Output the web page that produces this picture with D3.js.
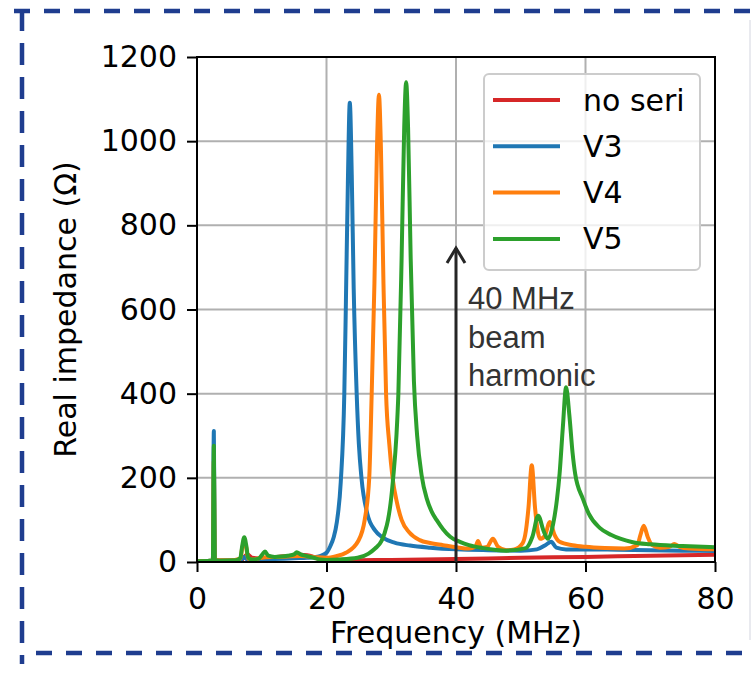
<!DOCTYPE html>
<html>
<head>
<meta charset="utf-8">
<script src="https://cdn.jsdelivr.net/npm/d3@7/dist/d3.min.js"></script>
<style>
  html, body { margin: 0; padding: 0; background: #ffffff; }
  svg { display: block; }
</style>
</head>
<body>
<svg id="chart" width="754" height="682"></svg>
<script>
// Series names and colours (matplotlib tab10)
const seriesNames = ["no seri", "V3", "V4", "V5"];
const seriesColors = ["#d62728", "#1f77b4", "#ff7f0e", "#2ca02c"];

// Real impedance (Ω) against frequency (MHz) for each configuration
const noSeriFreq = [0, 2, 5, 6.8, 7.3, 7.8, 8.5, 10, 11, 12, 13, 14, 15, 16, 17, 18, 19, 20, 25, 30, 40, 50, 60, 70, 80];
const noSeriZ    = [1, 1, 2, 3, 12, 18, 10, 8, 10, 12, 13, 14, 15, 17, 16, 12, 6, 3, 4, 5, 7, 10, 12, 15, 17];

const v3Freq = [0, 2.0, 2.45, 2.6, 2.75, 3.2, 5, 6.8, 7.3, 7.8, 10, 12, 15, 17, 18, 19, 20, 20.6, 21.1, 21.6, 22.2, 22.75, 23.0, 23.3, 23.6, 23.9, 24.2, 24.66, 25.0, 25.4, 26.3, 27.5, 28.7, 30.5, 32.9, 36, 40.1, 45, 50, 52.5, 53.8, 54.7, 55.5, 57, 60, 65, 70, 75, 80];
const v3Z    = [2, 3, 5, 311, 5, 4, 4, 5, 12, 5, 6, 7, 9, 10, 11, 14, 22, 38, 58, 95, 190, 400, 620, 900, 1091, 920, 650, 400, 280, 200, 115, 75, 58, 46, 39, 34, 30, 28, 27, 30, 40, 48, 34, 30, 30, 29, 28, 27, 26];

const v4Freq = [0, 2.0, 2.45, 2.6, 2.75, 3.2, 5, 6.7, 7.0, 7.3, 7.6, 7.9, 8.5, 10, 12, 14, 16, 18, 20, 21.5, 23, 24.9, 25.9, 26.6, 26.98, 27.4, 27.8, 28.1, 28.4, 28.8, 29.2, 29.7, 30.2, 30.9, 31.6, 32.8, 34.4, 36, 38, 40.1, 42, 43, 43.4, 43.9, 44.8, 45.7, 46.5, 47.8, 49, 50.3, 50.8, 51.2, 51.7, 52.2, 52.6, 53.0, 53.7, 54.5, 55.2, 56, 58, 60, 63, 66, 68, 68.5, 69, 69.6, 70.3, 71.5, 73, 73.7, 74.5, 76, 80];
const v4Z    = [2, 3, 5, 240, 5, 4, 4, 8, 35, 45, 35, 8, 6, 10, 12, 13, 14, 12, 10, 14, 22, 50, 100, 200, 400, 661, 987, 1110, 987, 661, 400, 280, 200, 140, 100, 70, 52, 45, 40, 35, 32, 36, 50, 34, 36, 55, 36, 28, 30, 45, 75, 130, 230, 130, 75, 55, 62, 95, 65, 48, 40, 36, 33, 32, 40, 65, 86, 60, 40, 34, 36, 43, 36, 32, 30];

const v5Freq = [0, 2.0, 2.45, 2.6, 2.75, 3.5, 6, 6.7, 7.0, 7.3, 7.6, 7.9, 8.5, 9.5, 10.1, 10.5, 11, 12, 13, 14, 15, 15.4, 16, 17, 18, 19, 20, 22, 24.8, 26.5, 27.5, 28.5, 29.0, 29.5, 29.9, 30.3, 30.8, 31.1, 31.6, 32.0, 32.3, 32.6, 33.0, 33.5, 34.0, 34.7, 35.5, 36.3, 37.0, 38, 39.1, 40.6, 42, 44.2, 47.8, 50.8, 51.8, 52.7, 53.5, 54.2, 55.0, 55.6, 56.0, 56.5, 57.0, 57.5, 58.0, 58.4, 59.6, 60.5, 62.2, 64, 67.3, 70, 75, 80];
const v5Z    = [2, 3, 4, 276, 4, 3, 4, 10, 40, 59, 40, 10, 6, 8, 18, 25, 15, 12, 13, 15, 18, 23, 18, 14, 10, 6, 5, 6, 10, 20, 32, 50, 70, 100, 140, 200, 300, 400, 722, 1031, 1140, 1031, 722, 430, 300, 205, 150, 118, 100, 78, 60, 48, 40, 33, 27, 33, 60, 110, 75, 55, 90, 150, 210, 320, 415, 350, 260, 210, 150, 115, 81, 64, 47, 42, 38, 35];

// Axis ticks
const xTicks = [0, 20, 40, 60, 80];
const yTicks = [0, 200, 400, 600, 800, 1000, 1200];

// Beam harmonic marker
const harmonicFreq = 40;
const harmonicArrowTop = 746;
const harmonicText = ["40 MHz", "beam", "harmonic"];

const seriesData = [
  d3.zip(noSeriFreq, noSeriZ),
  d3.zip(v3Freq, v3Z),
  d3.zip(v4Freq, v4Z),
  d3.zip(v5Freq, v5Z)
];

const svg = d3.select("#chart");
const W = 754, H = 682;
const plot = { left: 197, right: 715, top: 57, bottom: 562 };

const x = d3.scaleLinear().domain([0, 80]).range([plot.left, plot.right]);
const y = d3.scaleLinear().domain([0, 1200]).range([plot.bottom, plot.top]);

const tickFont = "'DejaVu Sans', sans-serif";

// Dashed frame around the figure
const frameColor = "#1f3d8f";
svg.append("line").attr("x1", 14).attr("x2", W).attr("y1", 11).attr("y2", 11)
  .attr("stroke", frameColor).attr("stroke-width", 4.5).attr("stroke-dasharray", "16 14");
svg.append("line").attr("x1", 22).attr("x2", 22).attr("y1", 9).attr("y2", 664)
  .attr("stroke", frameColor).attr("stroke-width", 4.5).attr("stroke-dasharray", "22 12");
svg.append("line").attr("x1", 36).attr("x2", W).attr("y1", 653).attr("y2", 653)
  .attr("stroke", frameColor).attr("stroke-width", 4.5).attr("stroke-dasharray", "16 14");
svg.append("line").attr("x1", 750).attr("x2", 750).attr("y1", 20).attr("y2", 640)
  .attr("stroke", "#e2e3ea").attr("stroke-width", 1.5);

// Grid
const grid = svg.append("g");
grid.selectAll(".gx").data(xTicks.slice(1, -1)).join("line")
  .attr("x1", d => x(d)).attr("x2", d => x(d))
  .attr("y1", plot.top).attr("y2", plot.bottom)
  .attr("stroke", "#b0b0b0").attr("stroke-width", 2);
grid.selectAll(".gy").data(yTicks.slice(1, -1)).join("line")
  .attr("x1", plot.left).attr("x2", plot.right)
  .attr("y1", d => y(d)).attr("y2", d => y(d))
  .attr("stroke", "#b0b0b0").attr("stroke-width", 2);

// Curves
svg.append("clipPath").attr("id", "plotClip").append("rect")
  .attr("x", plot.left).attr("y", plot.top - 2)
  .attr("width", plot.right - plot.left).attr("height", plot.bottom - plot.top + 2);

const line = d3.line()
  .x(d => x(d[0]))
  .y(d => y(d[1]))
  .curve(d3.curveMonotoneX);

svg.append("g").attr("clip-path", "url(#plotClip)")
  .selectAll("path").data(seriesData).join("path")
  .attr("d", line)
  .attr("fill", "none")
  .attr("stroke", (d, i) => seriesColors[i])
  .attr("stroke-width", 4)
  .attr("stroke-linejoin", "round")
  .attr("stroke-linecap", "round");

// Axes
const xAxis = d3.axisBottom(x).tickValues(xTicks).tickSize(10).tickPadding(8).tickFormat(d3.format("d"));
const yAxis = d3.axisLeft(y).tickValues(yTicks).tickSize(10).tickPadding(10).tickFormat(d3.format("d"));

const gx = svg.append("g").attr("transform", `translate(0,${plot.bottom})`).call(xAxis);
const gy = svg.append("g").attr("transform", `translate(${plot.left},0)`).call(yAxis);
[gx, gy].forEach(g => {
  g.select(".domain").remove();
  g.selectAll(".tick line").attr("stroke", "#000").attr("stroke-width", 2);
  g.selectAll(".tick text").attr("fill", "#000")
    .style("font-family", tickFont).style("font-size", "30px");
});
gx.selectAll(".tick text").attr("dy", "0.95em");

// Plot frame
svg.append("rect")
  .attr("x", plot.left).attr("y", plot.top)
  .attr("width", plot.right - plot.left).attr("height", plot.bottom - plot.top)
  .attr("fill", "none").attr("stroke", "#000").attr("stroke-width", 2);

// Axis titles
svg.append("text")
  .attr("x", (plot.left + plot.right) / 2).attr("y", 643)
  .attr("text-anchor", "middle")
  .style("font-family", tickFont).style("font-size", "30px").attr("fill", "#000")
  .text("Frequency (MHz)");
svg.append("text")
  .attr("transform", `translate(76,${(plot.top + plot.bottom) / 2}) rotate(-90)`)
  .attr("text-anchor", "middle")
  .style("font-family", tickFont).style("font-size", "30px").attr("fill", "#000")
  .text("Real impedance (Ω)");

// Beam harmonic arrow and note
const ax = x(harmonicFreq), ayTop = y(harmonicArrowTop);
svg.append("line").attr("x1", ax).attr("x2", ax).attr("y1", y(0)).attr("y2", ayTop)
  .attr("stroke", "#262626").attr("stroke-width", 3);
svg.append("path")
  .attr("d", `M${ax - 9},${ayTop + 15} L${ax},${ayTop} L${ax + 9},${ayTop + 15}`)
  .attr("fill", "none").attr("stroke", "#262626").attr("stroke-width", 3)
  .attr("stroke-linejoin", "miter");
svg.append("g").selectAll("text").data(harmonicText).join("text")
  .attr("x", ax + 12).attr("y", (d, i) => 309 + i * 38.5)
  .style("font-family", "'Liberation Sans', Arial, sans-serif").style("font-size", "31px")
  .attr("fill", "#333")
  .text(d => d);

// Legend
const legend = svg.append("g");
legend.append("rect")
  .attr("x", 484).attr("y", 74).attr("width", 216).attr("height", 196)
  .attr("rx", 5).attr("fill", "#fff").attr("fill-opacity", 0.8)
  .attr("stroke", "#cccccc").attr("stroke-width", 2);
const items = legend.selectAll("g.item").data(seriesNames).join("g")
  .attr("transform", (d, i) => `translate(0,${100 + i * 46.3})`);
items.append("line").attr("x1", 493).attr("x2", 560).attr("y1", 0).attr("y2", 0)
  .attr("stroke", (d, i) => seriesColors[i]).attr("stroke-width", 4);
items.append("text").attr("x", 583).attr("y", 10.5)
  .style("font-family", tickFont).style("font-size", "30px").attr("fill", "#000")
  .text(d => d);
</script>
</body>
</html>
